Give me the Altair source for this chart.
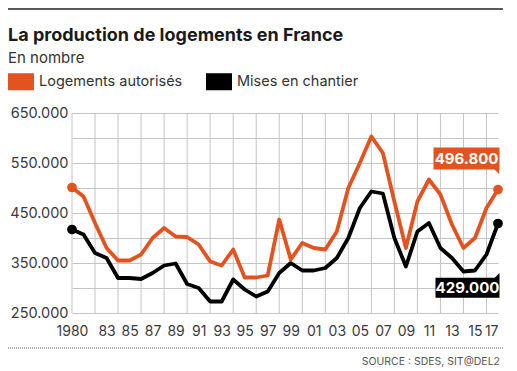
import altair as alt
import pandas as pd

# ---------------- data ----------------
years = list(range(1980, 2018))
autorises = [501000, 483000, 430000, 380000, 355000, 355000, 367000, 400000, 420000, 403000,
             402000, 387000, 353000, 345000, 377000, 321000, 321000, 325000, 437000, 357000,
             390000, 380000, 377000, 413000, 500000, 550000, 603000, 570000, 473000, 380000,
             473000, 517000, 487000, 427000, 380000, 400000, 460000, 496800]
mises = [417000, 407000, 370000, 360000, 320000, 320000, 318000, 330000, 345000, 349000,
         308000, 300000, 273000, 273000, 317000, 297000, 283000, 293000, 330000, 350000,
         335000, 335000, 340000, 360000, 400000, 460000, 493000, 489000, 400000, 343000,
         413000, 430000, 380000, 360000, 333000, 335000, 367000, 429000]
series_names = ["Logements autorisés", "Mises en chantier"]
series_colors = ["#E2531F", "#000000"]
x_tick_years = [1980, 1983, 1985, 1987, 1989, 1991, 1993, 1995, 1997, 1999,
                2001, 2003, 2005, 2007, 2009, 2011, 2013, 2015, 2017]
x_tick_labels = ["1980", "83", "85", "87", "89", "91", "93", "95", "97", "99",
                 "01", "03", "05", "07", "09", "11", "13", "15", "17"]
x_grid_years = list(range(1980, 2017, 2))
y_grid_values = list(range(250000, 650001, 50000))
y_label_values = list(range(250000, 650001, 100000))
last_labels = ["496.800", "429.000"]
title_text = "La production de logements en France"
subtitle_text = "En nombre"
source_text = "SOURCE : SDES, SIT@DEL2"

FONT = "Inter"

df = pd.DataFrame({
    "annee": years * 2,
    "valeur": autorises + mises,
    "serie": [series_names[0]] * len(years) + [series_names[1]] * len(years),
})
ends = df[df["annee"].isin([years[0], years[-1]])]
last_o = pd.DataFrame({"annee": [years[-1]], "valeur": [autorises[-1]], "label": [last_labels[0]]})
last_b = pd.DataFrame({"annee": [years[-1]], "valeur": [mises[-1]], "label": [last_labels[1]]})

x_scale = alt.Scale(domain=[years[0], years[-1]], nice=False, zero=False)
y_scale = alt.Scale(domain=[y_grid_values[0], y_grid_values[-1]], nice=False, zero=False)

tick_arr = "[" + ",".join(str(v) for v in x_tick_years) + "]"
lab_arr = "[" + ",".join("'" + s + "'" for s in x_tick_labels) + "]"
ylab_arr = "[" + ",".join(str(v) for v in y_label_values) + "]"

x_axis = alt.Axis(
    values=x_tick_years, title=None, grid=False, domain=False, ticks=False,
    labelExpr=f"{lab_arr}[indexof({tick_arr}, datum.value)]",
    labelFont=FONT, labelFontSize=14, labelColor="#3a3a3a", labelPadding=11,
    labelFlush=False, labelOverlap=False,
    labelAlign={"condition": {"test": f"datum.value == {x_tick_years[-1]}", "value": "right"},
                "value": "center"},
)
y_axis = alt.Axis(
    values=y_grid_values, title=None, grid=True, gridColor="#c4c4c4", gridWidth=1,
    domain=False, ticks=False,
    labelExpr=f"indexof({ylab_arr}, datum.value) >= 0 ? replace(format(datum.value, ','), ',', '.') : ''",
    labelFont=FONT, labelFontSize=14.5, labelColor="#3a3a3a", labelPadding=4,
)

X = alt.X("annee:Q", scale=x_scale, axis=x_axis)
Y = alt.Y("valeur:Q", scale=y_scale, axis=y_axis)

vgrid = alt.Chart(pd.DataFrame({"annee": x_grid_years})).mark_rule(
    color="#c4c4c4", strokeWidth=1
).encode(x=X)

line_b = alt.Chart(df).transform_filter(
    alt.datum.serie == series_names[1]
).mark_line(strokeWidth=3.8, strokeJoin="round", strokeCap="round", color=series_colors[1]).encode(x=X, y=Y)
line_o = alt.Chart(df).transform_filter(
    alt.datum.serie == series_names[0]
).mark_line(strokeWidth=3.8, strokeJoin="round", strokeCap="round", color=series_colors[0]).encode(x=X, y=Y)

legend = alt.Legend(
    title=None, orient="none", legendX=-64, legendY=-44.5, direction="horizontal",
    symbolType="M-1,-0.654L1,-0.654L1,0.654L-1,0.654Z", symbolSize=676,
    symbolStrokeWidth=0, symbolOpacity=1,
    labelFont=FONT, labelFontSize=14.5, labelColor="#333333", labelOffset=5,
    columnPadding=23, padding=0,
)
dots = alt.Chart(ends).mark_circle(size=95, opacity=1).encode(
    x=X, y=Y,
    color=alt.Color("serie:N", scale=alt.Scale(domain=series_names, range=series_colors), legend=legend),
)

box_o = alt.Chart(last_o).mark_rect(
    color=series_colors[0], xOffset=-64.5, x2Offset=1.5, yOffset=-42, y2Offset=-20
).encode(x=X, y=Y, x2="annee:Q", y2="valeur:Q")
tail_o = alt.Chart(last_o).mark_point(
    shape="M-1,-1L1,-1L1,1Z", size=30, filled=True, opacity=1, color=series_colors[0],
    xOffset=-1.5, yOffset=-18
).encode(x=X, y=Y)
text_o = alt.Chart(last_o).mark_text(
    color="white", font=FONT, fontWeight="bold", fontSize=15, align="center",
    baseline="middle", dx=-31.5, dy=-31
).encode(x=X, y=Y, text="label:N")

box_b = alt.Chart(last_b).mark_rect(
    color=series_colors[1], xOffset=-62.5, x2Offset=1.5, yOffset=54.2, y2Offset=74.2
).encode(x=X, y=Y, x2="annee:Q", y2="valeur:Q")
tail_b = alt.Chart(last_b).mark_point(
    shape="M-1,1L1,1L1,-1Z", size=25, filled=True, opacity=1, color=series_colors[1],
    xOffset=-1, yOffset=52
).encode(x=X, y=Y)
text_b = alt.Chart(last_b).mark_text(
    color="white", font=FONT, fontWeight="bold", fontSize=15, align="center",
    baseline="middle", dx=-30.5, dy=64
).encode(x=X, y=Y, text="label:N")

deco = pd.DataFrame({"k": [0]})
top_rule = alt.Chart(deco).mark_rule(color="#222222", strokeWidth=1.5).encode(
    x=alt.value(-64), x2=alt.value(431), y=alt.value(-104))
bottom_rule = alt.Chart(deco).mark_rule(color="#555555", strokeWidth=1, strokeDash=[1, 1]).encode(
    x=alt.value(-64), x2=alt.value(431), y=alt.value(235))
source = alt.Chart(deco).mark_text(
    align="right", baseline="middle", font=FONT, fontSize=10.5, color="#555555"
).encode(x=alt.value(428), y=alt.value(249), text=alt.value(source_text))

chart = alt.layer(
    vgrid, line_b, line_o, dots, box_o, tail_o, text_o, box_b, tail_b, text_b,
    top_rule, bottom_rule, source,
).properties(
    width=426, height=200,
    autosize=alt.AutoSizeParams(type="none"),
    padding={"left": 64, "top": 105, "right": 11, "bottom": 58},
    title=alt.TitleParams(
        text=title_text, subtitle=subtitle_text, anchor="start", frame="group", dx=-64,
        offset=-57.75, font=FONT, fontSize=18, fontWeight="bold", color="#1a1a1a",
        subtitleFont=FONT, subtitleFontSize=15, subtitleColor="#333333", subtitlePadding=6,
    ),
).configure_view(stroke=None)

chart.save("out.html", embed_options={"renderer": "svg", "actions": False})
